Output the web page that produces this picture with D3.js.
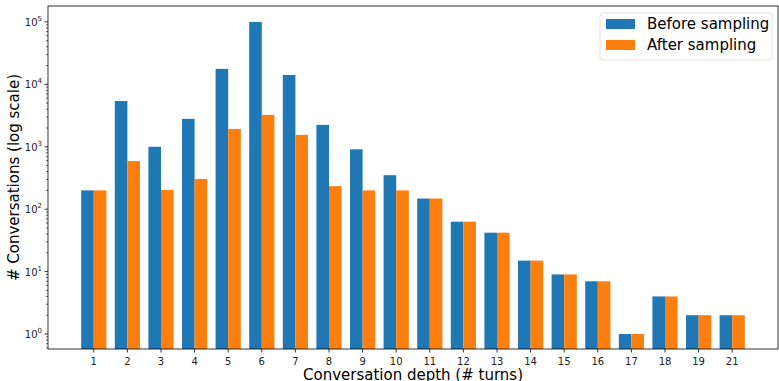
<!DOCTYPE html>
<html>
<head>
<meta charset="utf-8">
<script src="https://cdn.jsdelivr.net/npm/d3@7"></script>
<style>
  body { margin: 0; background: #fff; }
  svg { font-family: "DejaVu Sans", sans-serif; display: block; }
</style>
</head>
<body>
<div id="chart"></div>
<script>
// data
const depths = ["1", "2", "3", "4", "5", "6", "7", "8", "9", "10", "11", "12", "13", "14", "15", "16", "17", "18", "19", "21"];
const before = [200, 5400, 1000, 2800, 17700, 100000, 14100, 2240, 910, 350, 148, 63, 42, 15, 9, 7, 1, 4, 2, 2];
const after  = [200, 590, 203, 305, 1930, 3240, 1550, 234, 200, 200, 148, 63, 42, 15, 9, 7, 1, 4, 2, 2];
const seriesNames = ["Before sampling", "After sampling"];
const colors = ["#1f77b4", "#ff7f0e"];
const yMajor = [1, 10, 100, 1000, 10000, 100000];

const W = 779, H = 381;
const plot = { left: 48, top: 6, right: 778, bottom: 349 };

const svg = d3.select("#chart").append("svg")
    .attr("width", W).attr("height", H);

// x: index positions, matplotlib-like margins
const n = depths.length;
const barW = 0.375;
const pad = 0.05 * (n - 1 + 2 * barW);
const x = d3.scaleLinear()
    .domain([-barW - pad, n - 1 + barW + pad])
    .range([plot.left, plot.right]);

const y = d3.scaleLog()
    .domain([0.575, 180000])
    .range([plot.bottom, plot.top]);

// bars
const rows = depths.map((d, i) => ({ i, vals: [before[i], after[i]] }));
seriesNames.forEach((name, s) => {
    svg.append("g")
        .selectAll("rect")
        .data(rows)
        .join("rect")
        .attr("x", d => x(d.i - barW + s * barW))
        .attr("width", x(barW) - x(0))
        .attr("y", d => y(d.vals[s]))
        .attr("height", d => plot.bottom - y(d.vals[s]))
        .attr("fill", colors[s]);
});

// spines
svg.append("rect")
    .attr("x", plot.left).attr("y", plot.top)
    .attr("width", plot.right - plot.left).attr("height", plot.bottom - plot.top)
    .attr("fill", "none").attr("stroke", "#000").attr("stroke-width", 0.8);

// x ticks
const xt = svg.append("g");
depths.forEach((d, i) => {
    xt.append("line")
        .attr("x1", x(i)).attr("x2", x(i))
        .attr("y1", plot.bottom).attr("y2", plot.bottom + 3.5)
        .attr("stroke", "#000").attr("stroke-width", 0.8);
    xt.append("text")
        .attr("x", x(i)).attr("y", plot.bottom + 16)
        .attr("text-anchor", "middle")
        .attr("font-size", 10)
        .attr("fill", "#222")
        .text(d);
});

// y minor ticks
const yt = svg.append("g");
const [ylo, yhi] = y.domain();
for (let e = -1; e <= 5; e++) {
    for (let k = 2; k <= 9; k++) {
        const v = k * Math.pow(10, e);
        if (v < ylo || v > yhi) continue;
        yt.append("line")
            .attr("x1", plot.left - 2).attr("x2", plot.left)
            .attr("y1", y(v)).attr("y2", y(v))
            .attr("stroke", "#000").attr("stroke-width", 0.6);
    }
}
// y major ticks with superscript labels
yMajor.forEach(v => {
    yt.append("line")
        .attr("x1", plot.left - 3.5).attr("x2", plot.left)
        .attr("y1", y(v)).attr("y2", y(v))
        .attr("stroke", "#000").attr("stroke-width", 0.8);
    const t = yt.append("text")
        .attr("x", plot.left - 6).attr("y", y(v) + 4)
        .attr("text-anchor", "end")
        .attr("font-size", 10)
        .attr("fill", "#222");
    t.append("tspan").text("10");
    t.append("tspan").attr("font-size", 7).attr("dy", -5).text(Math.round(Math.log10(v)));
});

// axis labels
svg.append("text")
    .attr("x", (plot.left + plot.right) / 2).attr("y", 380)
    .attr("text-anchor", "middle")
    .attr("font-size", 15)
    .attr("fill", "#000")
    .text("Conversation depth (# turns)");

svg.append("text")
    .attr("transform", `translate(19,${(plot.top + plot.bottom) / 2}) rotate(-90)`)
    .attr("text-anchor", "middle")
    .attr("font-size", 15)
    .attr("fill", "#000")
    .text("# Conversations (log scale)");

// legend
const lg = svg.append("g").attr("transform", "translate(600,13)");
lg.append("rect")
    .attr("width", 172).attr("height", 47).attr("rx", 3)
    .attr("fill", "#fff").attr("stroke", "#ddd").attr("stroke-width", 0.8);
seriesNames.forEach((name, s) => {
    lg.append("rect")
        .attr("x", 6).attr("y", 6 + s * 21)
        .attr("width", 29).attr("height", 10)
        .attr("fill", colors[s]);
    lg.append("text")
        .attr("x", 47).attr("y", 16 + s * 21)
        .attr("font-size", 15)
        .attr("fill", "#000")
        .text(name);
});
</script>
</body>
</html>
